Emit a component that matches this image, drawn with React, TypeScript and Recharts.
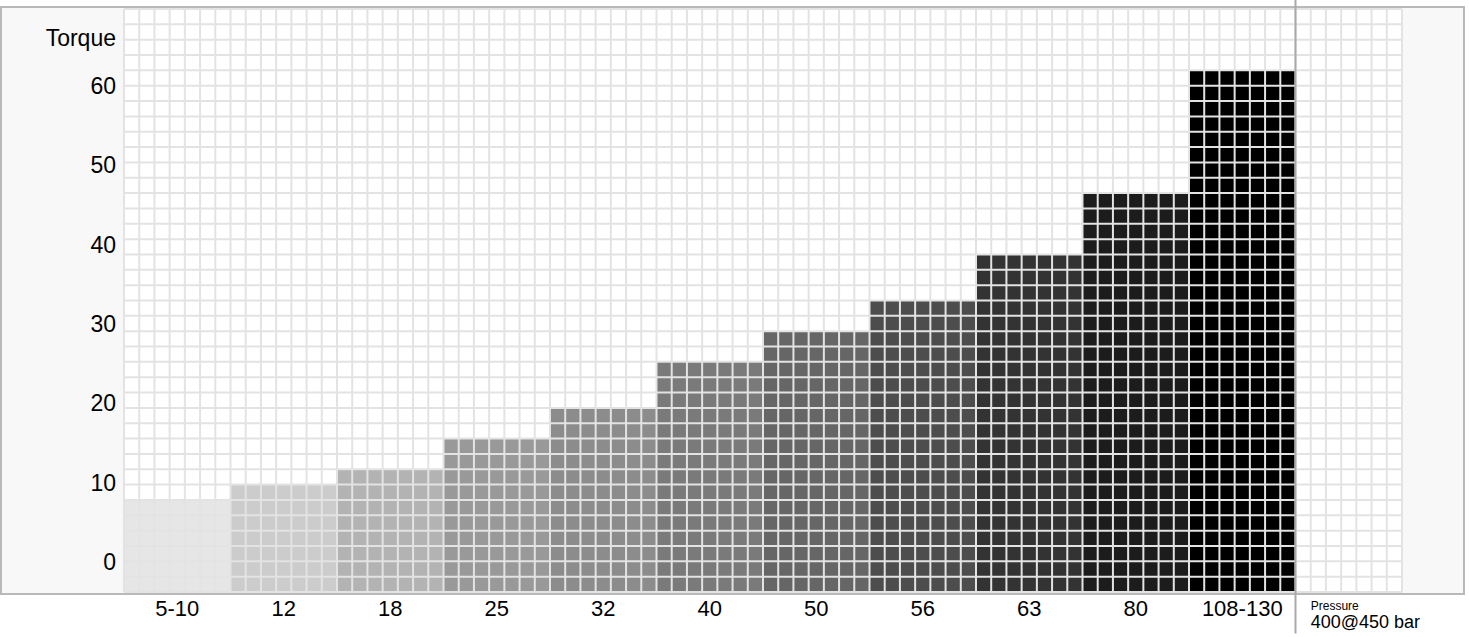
import {
  Bar,
  CartesianGrid,
  Cell,
  ComposedChart,
  ReferenceLine,
  XAxis,
  YAxis,
} from "recharts";

const sizes = ["5-10", "12", "18", "25", "32", "40", "50", "56", "63", "80", "108-130", "Pressure"];
const torque = [7.8, 9.7, 11.7, 15.6, 19.4, 25.2, 29.1, 33.0, 38.8, 46.5, 62.0, null];
const shades = [
  "#e6e6e6",
  "#cccccc",
  "#b3b3b3",
  "#999999",
  "#8c8c8c",
  "#7a7a7a",
  "#666666",
  "#4d4d4d",
  "#333333",
  "#1c1c1c",
  "#000000",
];
const yTicks = [0, 10, 20, 30, 40, 50, 60];
const yTitle = "Torque";
const pressureUnit = "400@450 bar";

// axis runs a little below zero so the bars start under the 0 label
const yMin = -3.78;
const yMax = 69.71;
const titleAt = 66.05;

const rows = sizes.map((s, i) => ({
  size: s,
  range: torque[i] == null ? null : [yMin, torque[i]],
}));

const font = "'Liberation Sans', Arial, sans-serif";

function YTick(props: any) {
  const { x, y, payload } = props;
  const isTitle = payload.value === titleAt;
  return (
    <text
      x={x}
      y={y}
      textAnchor="end"
      dominantBaseline="central"
      fontSize={23}
      fontFamily={font}
      fill="#000"
    >
      {isTitle ? yTitle : payload.value}
    </text>
  );
}

function XTick(props: any) {
  const { x, y, payload } = props;
  if (payload.value === "Pressure") {
    return (
      <g>
        <text x={x - 38} y={y + 18} fontSize={12} fontFamily={font} fill="#000">
          Pressure
        </text>
        <text x={x - 38} y={y + 36} fontSize={18} fontFamily={font} fill="#000">
          {pressureUnit}
        </text>
      </g>
    );
  }
  return (
    <text
      x={x}
      y={y + 24}
      textAnchor="middle"
      fontSize={22}
      fontFamily={font}
      fill="#000"
    >
      {payload.value}
    </text>
  );
}

const cols = 84;
const gridRows = 38;

export default function App() {
  return (
    <div style={{ position: "absolute", left: 0, top: 0, width: 1469, height: 637 }}>
      <div
        style={{
          position: "absolute",
          left: 0,
          top: 6,
          width: 1465,
          height: 589,
          boxSizing: "border-box",
          border: "2px solid #b9b9b9",
          background: "#f8f8f8",
        }}
      />
      <div style={{ position: "absolute", left: 0, top: 0 }}>
        <ComposedChart
          width={1469}
          height={637}
          data={rows}
          barCategoryGap={0}
          barGap={0}
          margin={{ top: 9, right: 67, bottom: 0, left: 0 }}
        >
          <CartesianGrid fill="#ffffff" horizontal={false} vertical={false} />
          <XAxis
            dataKey="size"
            height={45}
            tickLine={false}
            axisLine={false}
            tickSize={0}
            tickMargin={0}
            interval={0}
            tick={<XTick />}
          />
          <YAxis
            width={124}
            domain={[yMin, yMax]}
            allowDataOverflow
            ticks={[...yTicks, titleAt]}
            tickLine={false}
            axisLine={false}
            tickSize={0}
            tickMargin={8}
            tick={<YTick />}
          />
          <Bar dataKey="range" isAnimationActive={false}>
            {rows.map((r, i) => (
              <Cell key={r.size} fill={shades[i] ?? "#ffffff"} />
            ))}
          </Bar>
          <CartesianGrid
            zIndex={1000}
            stroke="#e3e3e3"
            strokeWidth={2}
            strokeDasharray=""
            verticalCoordinatesGenerator={({ offset }: any) =>
              Array.from({ length: cols + 1 }, (_, i) => offset.left + (i * offset.width) / cols)
            }
            horizontalCoordinatesGenerator={({ offset }: any) =>
              Array.from({ length: gridRows + 1 }, (_, i) => offset.top + (i * offset.height) / gridRows)
            }
          />
          <ReferenceLine
            zIndex={1100}
            ifOverflow="visible"
            position="start"
            segment={[
              { x: "Pressure", y: 72 },
              { x: "Pressure", y: -9 },
            ]}
            stroke="#a9a9a9"
            strokeWidth={2}
          />
        </ComposedChart>
      </div>
    </div>
  );
}
